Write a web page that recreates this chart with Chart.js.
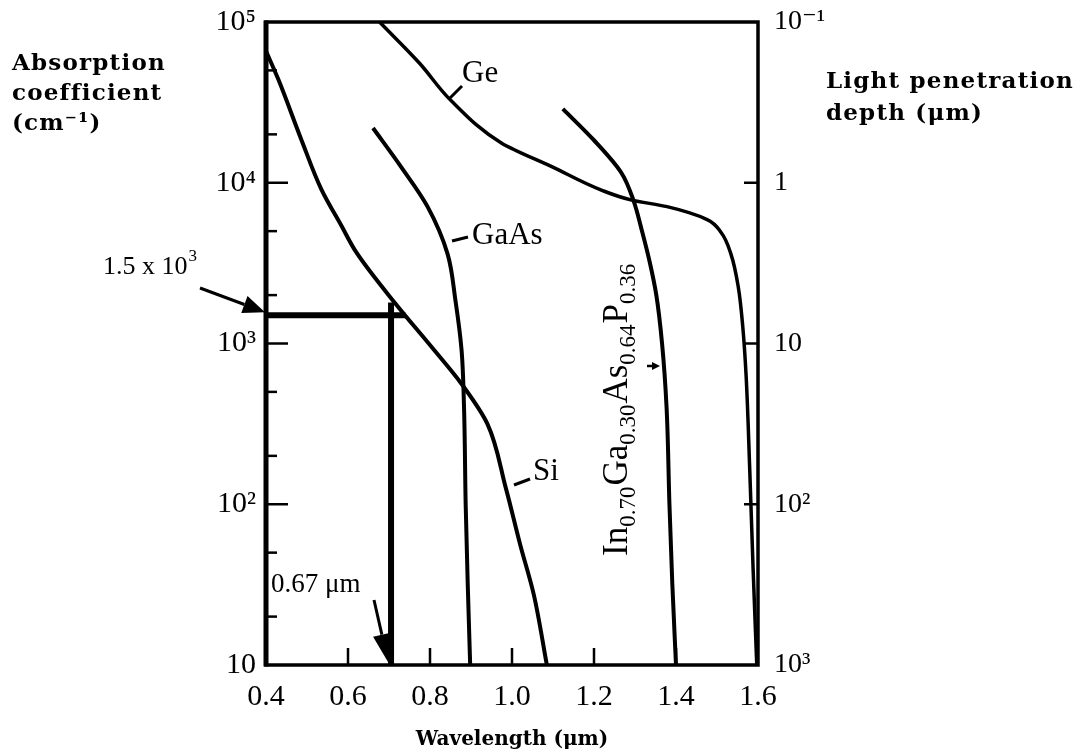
<!DOCTYPE html>
<html>
<head>
<meta charset="utf-8">
<title>Absorption coefficient vs wavelength</title>
<script src="https://cdn.jsdelivr.net/npm/chart.js@4"></script>
<style>
  html, body { margin: 0; padding: 0; background: #fff; }
  #chart { display: block; }
</style>
</head>
<body>
<canvas id="chart" width="1089" height="756"></canvas>
<script>
// wavelength in um, absorption coefficient in cm^-1
const siWavelength = [0.40, 0.43, 0.486, 0.535, 0.584, 0.62, 0.715, 0.804, 0.877, 0.94, 0.985, 1.02, 1.053, 1.085];
const siAlpha = [66000, 44000, 18600, 9100, 5400, 3700, 1780, 950, 560, 316, 126, 56, 27.5, 10];

const gaasWavelength = [0.661, 0.729, 0.794, 0.843, 0.862, 0.877, 0.883, 0.887, 0.892, 0.898];
const gaasAlpha = [21900, 12600, 7100, 3600, 1860, 910, 400, 100, 32, 10];

const geWavelength = [0.677, 0.774, 0.85, 0.974, 1.097, 1.218, 1.292, 1.378, 1.476, 1.51, 1.534, 1.552, 1.563, 1.571, 1.58, 1.588, 1.597];
const geAlpha = [100000, 55600, 32700, 17700, 12600, 9000, 7800, 7100, 5900, 4900, 3600, 2240, 1260, 630, 160, 40, 10];

const ingaaspWavelength = [1.124, 1.198, 1.267, 1.296, 1.318, 1.336, 1.352, 1.366, 1.377, 1.384, 1.391, 1.40];
const ingaaspAlpha = [28800, 18600, 11500, 7800, 4900, 3200, 2000, 1000, 400, 100, 32, 10];

// the 0.67 um / 1.5 x 10^3 construction lines
const markerHWavelength = [0.4, 0.74];
const markerHAlpha = [1500, 1500];
const markerVWavelength = [0.705, 0.705];
const markerVAlpha = [1800, 10];

const xTicks = [0.4, 0.6, 0.8, 1.0, 1.2, 1.4, 1.6];
const xTickLabels = ['0.4', '0.6', '0.8', '1.0', '1.2', '1.4', '1.6'];
const alphaTicks = [10, 100, 1000, 10000, 100000];
const alphaTickLabels = ['10', '10²', '10³', '10⁴', '10⁵'];
const alphaMinor = [2, 5];
const depthTicks = [0.1, 1, 10, 100, 1000];
const depthTickLabels = ['10⁻¹', '1', '10', '10²', '10³'];

function pts(xs, ys) {
  return xs.map((v, i) => ({ x: v, y: ys[i] }));
}

// curves run down steeply, so interpolate wavelength as a function of alpha
function curve(xs, ys, w) {
  return {
    data: pts(xs, ys),
    indexAxis: 'y',
    borderColor: '#000',
    borderWidth: w,
    pointRadius: 0,
    fill: false,
    cubicInterpolationMode: 'monotone',
    xAxisID: 'x',
    yAxisID: 'y'
  };
}

function straight(xs, ys) {
  return {
    data: pts(xs, ys),
    borderColor: '#000',
    borderWidth: 6,
    pointRadius: 0,
    tension: 0,
    borderCapStyle: 'butt',
    xAxisID: 'x',
    yAxisID: 'y'
  };
}

const SERIF = '"Liberation Serif", "DejaVu Serif", serif';
const TITLE = '"DejaVu Serif", serif';

function arrow(ctx, x1, y1, x2, y2, len, half) {
  const ang = Math.atan2(y2 - y1, x2 - x1);
  const bx = x2 - len * Math.cos(ang), by = y2 - len * Math.sin(ang);
  ctx.beginPath();
  ctx.moveTo(x1, y1);
  ctx.lineTo(bx, by);
  ctx.stroke();
  ctx.beginPath();
  ctx.moveTo(x2, y2);
  ctx.lineTo(bx + half * Math.sin(ang), by - half * Math.cos(ang));
  ctx.lineTo(bx - half * Math.sin(ang), by + half * Math.cos(ang));
  ctx.closePath();
  ctx.fill();
}

function line(ctx, x1, y1, x2, y2) {
  ctx.beginPath();
  ctx.moveTo(x1, y1);
  ctx.lineTo(x2, y2);
  ctx.stroke();
}

// frame, inward ticks and all the annotation text
const annotate = {
  id: 'annotate',
  afterDraw(chart) {
    const { ctx, chartArea: a, scales } = chart;
    const x = scales.x, y = scales.y, d = scales.depth;
    ctx.save();
    ctx.strokeStyle = '#000';
    ctx.fillStyle = '#000';
    ctx.lineCap = 'butt';

    // frame
    ctx.lineWidth = 3.5;
    ctx.strokeRect(a.left, a.top, a.right - a.left, a.bottom - a.top);
    ctx.lineWidth = 5;
    line(ctx, a.left, a.top - 1.5, a.left, a.bottom + 1.5);

    // inward ticks
    ctx.lineWidth = 2.5;
    alphaTicks.slice(1, -1).forEach(v => {
      const py = y.getPixelForValue(v);
      line(ctx, a.left, py, a.left + 22, py);
    });
    alphaTicks.slice(0, -1).forEach(dec => {
      alphaMinor.forEach(m => {
        const py = y.getPixelForValue(dec * m);
        line(ctx, a.left, py, a.left + 11, py);
      });
    });
    xTicks.slice(1, -1).forEach(v => {
      const px = x.getPixelForValue(v);
      line(ctx, px, a.bottom, px, a.bottom - 17);
    });
    depthTicks.slice(1, -1).forEach(v => {
      const py = d.getPixelForValue(v);
      line(ctx, a.right, py, a.right - 14, py);
    });

    // axis titles
    if ('letterSpacing' in ctx) ctx.letterSpacing = '1.2px';
    ctx.font = 'bold 23px ' + TITLE;
    ctx.textAlign = 'left';
    ctx.textBaseline = 'alphabetic';
    ctx.fillText('Absorption', 12, 70);
    ctx.fillText('coefficient', 12, 100);
    ctx.fillText('(cm⁻¹)', 12, 130);
    ctx.fillText('Light penetration', 826, 88);
    ctx.fillText('depth (μm)', 826, 120);
    if ('letterSpacing' in ctx) ctx.letterSpacing = '0px';

    // series labels with leaders
    ctx.font = '31px ' + SERIF;
    ctx.lineWidth = 3;
    ctx.fillText('Ge', 462, 82);
    line(ctx, 449, 99, 462, 86);
    ctx.fillText('GaAs', 472, 244);
    line(ctx, 452, 241, 468, 237);
    ctx.fillText('Si', 533, 480);
    line(ctx, 514, 485, 530, 479);

    // In0.70Ga0.30As0.64P0.36, rotated
    ctx.save();
    ctx.translate(627, 556);
    ctx.rotate(-Math.PI / 2);
    let cx = 0;
    const parts = [['In', false], ['0.70', true], ['Ga', false], ['0.30', true],
                   ['As', false], ['0.64', true], ['P', false], ['0.36', true]];
    parts.forEach(([t, sub]) => {
      ctx.font = (sub ? '23px ' : '35px ') + SERIF;
      ctx.fillText(t, cx, sub ? 8 : 0);
      cx += ctx.measureText(t).width + (sub ? 1 : 0);
    });
    ctx.restore();
    ctx.lineWidth = 2.5;
    arrow(ctx, 647, 366, 660, 366, 8, 4);

    // 1.5 x 10^3 annotation
    ctx.font = '26px ' + SERIF;
    ctx.fillText('1.5 x 10', 103, 274);
    const w15 = ctx.measureText('1.5 x 10').width;
    ctx.font = '17px ' + SERIF;
    ctx.fillText('3', 103 + w15 + 1, 261);
    ctx.lineWidth = 3;
    arrow(ctx, 200, 288, a.left - 1, y.getPixelForValue(markerHAlpha[0]) - 3, 22, 9);

    // 0.67 um annotation
    ctx.font = '27px ' + SERIF;
    ctx.fillText('0.67 μm', a.left + 5, 592);
    arrow(ctx, 374, 600, x.getPixelForValue(markerVWavelength[0]) - 3, a.bottom - 3, 28, 9);

    ctx.restore();
  }
};

// keep the plot frame exactly where the figure has it
function noPad(s) {
  s.paddingTop = 0;
  s.paddingBottom = 0;
  s.paddingLeft = 0;
  s.paddingRight = 0;
}

const chart = new Chart(document.getElementById('chart'), {
  type: 'line',
  data: {
    datasets: [
      curve(siWavelength, siAlpha, 4),
      curve(gaasWavelength, gaasAlpha, 4),
      curve(geWavelength, geAlpha, 3.5),
      curve(ingaaspWavelength, ingaaspAlpha, 4),
      straight(markerHWavelength, markerHAlpha),
      straight(markerVWavelength, markerVAlpha)
    ]
  },
  options: {
    responsive: false,
    animation: false,
    layout: { padding: { top: 22, bottom: 0, left: 0, right: 0 } },
    plugins: { legend: { display: false }, tooltip: { enabled: false } },
    scales: {
      x: {
        type: 'linear',
        position: 'bottom',
        min: 0.4,
        max: 1.6,
        afterFit: s => { noPad(s); s.height = 91; },
        afterBuildTicks: s => { s.ticks = xTicks.map(v => ({ value: v })); },
        grid: { display: false, drawTicks: false },
        border: { display: false },
        ticks: {
          autoSkip: false,
          maxRotation: 0,
          padding: 14,
          color: '#000',
          font: { family: SERIF, size: 30 },
          callback: (v, i) => xTickLabels[i]
        },
        title: {
          display: true,
          text: 'Wavelength (μm)',
          color: '#000',
          font: { family: TITLE, size: 20, weight: 'bold' },
          padding: { top: 0, bottom: 4 }
        }
      },
      y: {
        type: 'logarithmic',
        position: 'left',
        min: 10,
        max: 100000,
        afterFit: s => { noPad(s); s.width = 266; },
        afterBuildTicks: s => { s.ticks = alphaTicks.map(v => ({ value: v })); },
        grid: { display: false, drawTicks: false },
        border: { display: false },
        ticks: {
          autoSkip: false,
          padding: 10,
          color: '#000',
          font: { family: SERIF, size: 30 },
          callback: (v, i) => alphaTickLabels[i]
        }
      },
      depth: {
        type: 'logarithmic',
        position: 'right',
        reverse: true,
        min: 0.1,
        max: 1000,
        afterFit: s => { noPad(s); s.width = 331; },
        afterBuildTicks: s => { s.ticks = depthTicks.map(v => ({ value: v })); },
        grid: { display: false, drawTicks: false },
        border: { display: false },
        ticks: {
          autoSkip: false,
          padding: 16,
          color: '#000',
          font: { family: SERIF, size: 28 },
          callback: (v, i) => depthTickLabels[i]
        }
      }
    }
  },
  plugins: [annotate]
});
</script>
</body>
</html>
